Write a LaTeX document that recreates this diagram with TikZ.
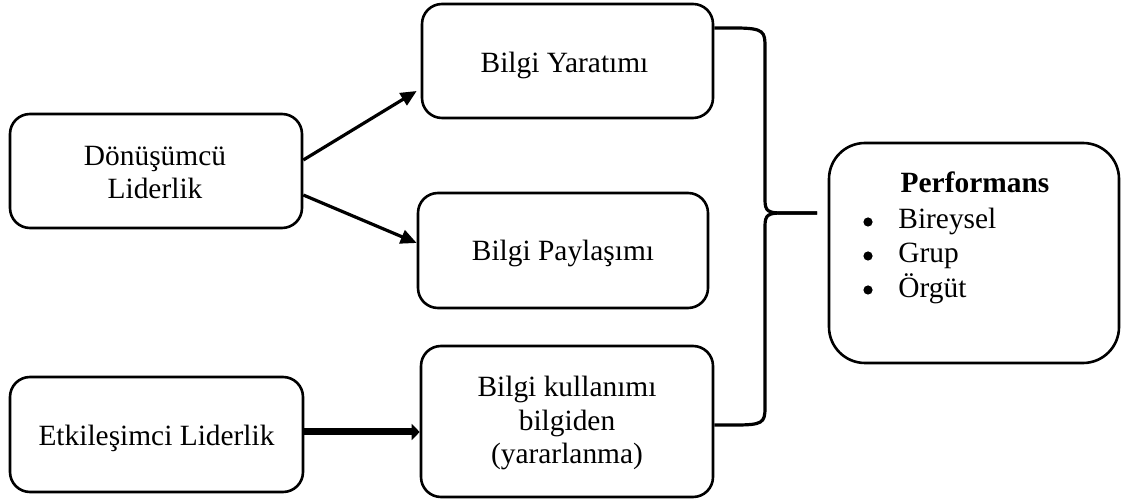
\documentclass[tikz,border=0pt]{standalone}
\usepackage{fontspec}
\setmainfont{Liberation Serif}
\usetikzlibrary{arrows.meta}
\begin{document}
\begin{tikzpicture}[x=0.5pt,y=-0.5pt,
  box/.style={draw, line width=1.3pt, rounded corners=10pt, inner sep=0pt},
  txt/.style={font=\fontsize{14.7}{16.75}\selectfont, align=center, inner sep=0pt},
  bul/.style={circle, fill=black, inner sep=0pt, minimum size=4.6pt},
  arr/.style={line width=1.6pt, -{Triangle[length=8pt,width=7pt]}},
  thickarr/.style={line width=3.5pt, -{Triangle[length=4pt,width=8pt]}},
  bracel/.style={line width=1.6pt}]
\useasboundingbox (0,0) rectangle (1123,501);
% boxes
\node[box, minimum width=146pt, minimum height=57pt] (dl) at (156,171) {};
\node[box, minimum width=145.5pt, minimum height=57pt] (by) at (567.5,61) {};
\node[box, minimum width=145pt, minimum height=57.5pt] (bp) at (563,250.5) {};
\node[box, minimum width=146pt, minimum height=75.5pt] (bk) at (567,421.5) {};
\node[box, minimum width=146.5pt, minimum height=57.5pt] (el) at (156.5,434.5) {};
\node[box, rounded corners=18pt, minimum width=145pt, minimum height=110pt] (pf) at (974,253) {};
% texts
\node[txt, anchor=base] (tdl) at (155,199) {Dönüşümcü\\Liderlik};
\node[txt, anchor=base] (tby) at (564.5,73) {Bilgi Yaratımı};
\node[txt, anchor=base] (tbp) at (563,261) {Bilgi Paylaşımı};
\node[txt, anchor=base] (tbk) at (567,464) {Bilgi kullanımı\\bilgiden\\(yararlanma)};
\node[txt, anchor=base] (tel) at (156.5,445) {Etkileşimci Liderlik};
\node[txt, font=\fontsize{14.7}{16.75}\selectfont\bfseries, anchor=base] (tpf) at (975,193) {Performans};
\node[bul] (b1) at (868,222) {};
\node[bul] (b2) at (868,256) {};
\node[bul] (b3) at (868,290) {};
\node[txt, anchor=base west] (t1) at (898,229) {Bireysel};
\node[txt, anchor=base west] (t2) at (898,263) {Grup};
\node[txt, anchor=base west] (t3) at (898,298) {Örgüt};
% arrows
\draw[arr] ([yshift=5.5pt]dl.east) -- ([yshift=-15pt,xshift=-2pt]by.west);
\draw[arr] ([yshift=-12pt]dl.east) -- ([yshift=3.75pt]bp.west);
\draw[thickarr] ([yshift=1.25pt]el.east) -- ([yshift=-5.25pt]bk.west);
% brace
\coordinate (bt) at ([yshift=16.5pt]by.east);
\coordinate (bb) at ([yshift=-1.75pt]bk.east);
\coordinate (tip) at (817,213);
\draw[bracel] (bt) -- (735,28) .. controls (765,28) and (765,32) .. (765,48)
  -- (765,200) .. controls (765,211) and (768,213) .. (782,213) -- (tip);
\draw[bracel] (tip) -- (782,213) .. controls (768,213) and (765,215) .. (765,226)
  -- (765,408) .. controls (765,423) and (762,425) .. (735,425) -- (bb);
\end{tikzpicture}
\end{document}
